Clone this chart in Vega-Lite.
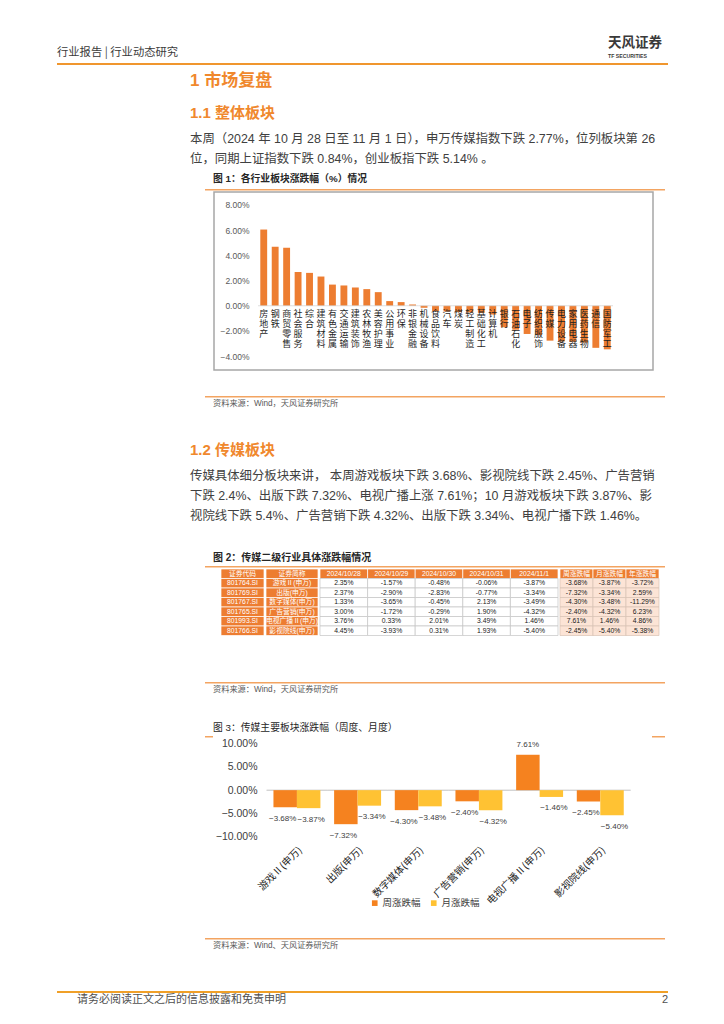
{
"$schema": "https://vega.github.io/schema/vega-lite/v6.json",
"padding": {"left": 57, "top": 0, "right": 0, "bottom": 0},
"background": "#ffffff",
"spacing": 0,
"resolve": {"scale": {"color": "independent"}, "legend": {"color": "independent"}},
"config": {"view": {"stroke": null}, "concat": {"spacing": 0}, "axis": {"grid": false}},
"datasets": {
"ind": [
{"n": "房地产", "v": 0.0605}, {"n": "钢铁", "v": 0.0468}, {"n": "商贸零售", "v": 0.0461}, {"n": "社会服务", "v": 0.0268},
{"n": "综合", "v": 0.0261}, {"n": "建筑材料", "v": 0.0232}, {"n": "有色金属", "v": 0.0168}, {"n": "交通运输", "v": 0.0161},
{"n": "建筑装饰", "v": 0.0145}, {"n": "农林牧渔", "v": 0.0132}, {"n": "美容护理", "v": 0.0108}, {"n": "公用事业", "v": 0.0037},
{"n": "环保", "v": 0.0029}, {"n": "非银金融", "v": 0.0010}, {"n": "机械设备", "v": -0.0016}, {"n": "食品饮料", "v": -0.0042},
{"n": "汽车", "v": -0.0046}, {"n": "煤炭", "v": -0.0050}, {"n": "轻工制造", "v": -0.0053}, {"n": "基础化工", "v": -0.0056},
{"n": "计算机", "v": -0.0070}, {"n": "银行", "v": -0.0171}, {"n": "石油石化", "v": -0.0190}, {"n": "电子", "v": -0.0224},
{"n": "纺织服饰", "v": -0.0232}, {"n": "传媒", "v": -0.0277}, {"n": "电力设备", "v": -0.0283}, {"n": "家用电器", "v": -0.0286},
{"n": "医药生物", "v": -0.0292}, {"n": "通信", "v": -0.0334}, {"n": "国防军工", "v": -0.0346}
],
"media": [
{"c": "游戏Ⅱ(申万)", "s": "周涨跌幅", "v": -0.0368}, {"c": "游戏Ⅱ(申万)", "s": "月涨跌幅", "v": -0.0387},
{"c": "出版(申万)", "s": "周涨跌幅", "v": -0.0732}, {"c": "出版(申万)", "s": "月涨跌幅", "v": -0.0334},
{"c": "数字媒体(申万)", "s": "周涨跌幅", "v": -0.0430}, {"c": "数字媒体(申万)", "s": "月涨跌幅", "v": -0.0348},
{"c": "广告营销(申万)", "s": "周涨跌幅", "v": -0.0240}, {"c": "广告营销(申万)", "s": "月涨跌幅", "v": -0.0432},
{"c": "电视广播Ⅱ(申万)", "s": "周涨跌幅", "v": 0.0761}, {"c": "电视广播Ⅱ(申万)", "s": "月涨跌幅", "v": -0.0146},
{"c": "影视院线(申万)", "s": "周涨跌幅", "v": -0.0245}, {"c": "影视院线(申万)", "s": "月涨跌幅", "v": -0.0540}
],
"tcode": [
{"row": 0, "col": "证券代码", "t": "证券代码"}, {"row": 1, "col": "证券代码", "t": "801764.SI"}, {"row": 2, "col": "证券代码", "t": "801769.SI"},
{"row": 3, "col": "证券代码", "t": "801767.SI"}, {"row": 4, "col": "证券代码", "t": "801765.SI"}, {"row": 5, "col": "证券代码", "t": "801993.SI"},
{"row": 6, "col": "证券代码", "t": "801766.SI"}
],
"tname": [
{"row": 0, "col": "证券简称", "t": "证券简称"}, {"row": 1, "col": "证券简称", "t": "游戏Ⅱ(申万)"}, {"row": 2, "col": "证券简称", "t": "出版(申万)"},
{"row": 3, "col": "证券简称", "t": "数字媒体(申万)"}, {"row": 4, "col": "证券简称", "t": "广告营销(申万)"}, {"row": 5, "col": "证券简称", "t": "电视广播Ⅱ(申万)"},
{"row": 6, "col": "证券简称", "t": "影视院线(申万)"}
],
"tdate": [
{"row": 0, "col": "d1", "t": "2024/10/28"}, {"row": 0, "col": "d2", "t": "2024/10/29"}, {"row": 0, "col": "d3", "t": "2024/10/30"}, {"row": 0, "col": "d4", "t": "2024/10/31"}, {"row": 0, "col": "d5", "t": "2024/11/1"},
{"row": 1, "col": "d1", "t": "2.35%"}, {"row": 1, "col": "d2", "t": "-1.57%"}, {"row": 1, "col": "d3", "t": "-0.48%"}, {"row": 1, "col": "d4", "t": "-0.06%"}, {"row": 1, "col": "d5", "t": "-3.87%"},
{"row": 2, "col": "d1", "t": "2.37%"}, {"row": 2, "col": "d2", "t": "-2.90%"}, {"row": 2, "col": "d3", "t": "-2.83%"}, {"row": 2, "col": "d4", "t": "-0.77%"}, {"row": 2, "col": "d5", "t": "-3.34%"},
{"row": 3, "col": "d1", "t": "1.33%"}, {"row": 3, "col": "d2", "t": "-3.65%"}, {"row": 3, "col": "d3", "t": "-0.45%"}, {"row": 3, "col": "d4", "t": "2.13%"}, {"row": 3, "col": "d5", "t": "-3.49%"},
{"row": 4, "col": "d1", "t": "3.00%"}, {"row": 4, "col": "d2", "t": "-1.72%"}, {"row": 4, "col": "d3", "t": "-0.29%"}, {"row": 4, "col": "d4", "t": "1.90%"}, {"row": 4, "col": "d5", "t": "-4.32%"},
{"row": 5, "col": "d1", "t": "3.76%"}, {"row": 5, "col": "d2", "t": "0.33%"}, {"row": 5, "col": "d3", "t": "2.01%"}, {"row": 5, "col": "d4", "t": "3.49%"}, {"row": 5, "col": "d5", "t": "1.46%"},
{"row": 6, "col": "d1", "t": "4.45%"}, {"row": 6, "col": "d2", "t": "-3.93%"}, {"row": 6, "col": "d3", "t": "0.31%"}, {"row": 6, "col": "d4", "t": "1.93%"}, {"row": 6, "col": "d5", "t": "-5.40%"}
],
"tchg": [
{"row": 0, "col": "w", "t": "周涨跌幅"}, {"row": 0, "col": "m", "t": "月涨跌幅"}, {"row": 0, "col": "y", "t": "年涨跌幅"},
{"row": 1, "col": "w", "t": "-3.68%"}, {"row": 1, "col": "m", "t": "-3.87%"}, {"row": 1, "col": "y", "t": "-3.72%"},
{"row": 2, "col": "w", "t": "-7.32%"}, {"row": 2, "col": "m", "t": "-3.34%"}, {"row": 2, "col": "y", "t": "2.59%"},
{"row": 3, "col": "w", "t": "-4.30%"}, {"row": 3, "col": "m", "t": "-3.48%"}, {"row": 3, "col": "y", "t": "-11.29%"},
{"row": 4, "col": "w", "t": "-2.40%"}, {"row": 4, "col": "m", "t": "-4.32%"}, {"row": 4, "col": "y", "t": "6.23%"},
{"row": 5, "col": "w", "t": "7.61%"}, {"row": 5, "col": "m", "t": "1.46%"}, {"row": 5, "col": "y", "t": "4.86%"},
{"row": 6, "col": "w", "t": "-2.45%"}, {"row": 6, "col": "m", "t": "-5.40%"}, {"row": 6, "col": "y", "t": "-5.38%"}
]
},
"vconcat": [
{"width": 1, "height": 35, "data": {"values": []}, "mark": "point"},
{"hconcat": [
  {"width": 551, "height": 27, "data": {"values": [{"t": "行业报告 | 行业动态研究"}]},
   "mark": {"type": "text", "align": "left", "baseline": "middle", "dy": 3.5, "fontSize": 11.3, "color": "#3a3a3a", "font": "Noto Sans CJK SC"},
   "encoding": {"text": {"field": "t"}, "x": {"datum": 0, "type": "quantitative", "scale": {"domain": [0, 1]}, "axis": null}}},
  {"width": 60, "height": 27, "layer": [
    {"data": {"values": [{"r": "a", "t": "天风证券"}]},
     "mark": {"type": "text", "align": "left", "baseline": "middle", "fontSize": 13.5, "fontWeight": "bold", "color": "#3a3a3a", "font": "Noto Sans CJK SC"},
     "encoding": {"text": {"field": "t"}, "x": {"datum": 0, "type": "quantitative", "scale": {"domain": [0, 1]}, "axis": null},
       "y": {"field": "r", "type": "nominal", "scale": {"type": "point", "domain": ["a", "b"], "padding": 0.5}, "axis": null}}},
    {"data": {"values": [{"r": "b", "t": "TF SECURITIES"}]},
     "mark": {"type": "text", "align": "left", "baseline": "middle", "fontSize": 5.2, "fontWeight": "bold", "color": "#3a3a3a", "font": "Liberation Sans"},
     "encoding": {"text": {"field": "t"}, "x": {"datum": 0, "type": "quantitative", "scale": {"domain": [0, 1]}, "axis": null},
       "y": {"field": "r", "type": "nominal", "scale": {"type": "point", "domain": ["a", "b"], "padding": 0.5}, "axis": null}}}
  ]}
 ], "spacing": 0},
{"width": 611, "height": 2, "data": {"values": []}, "mark": "point", "view": {"fill": "#F0962E", "stroke": null}},
{"hconcat": [
  {"width": 133, "height": 1, "data": {"values": []}, "mark": "point"},
  {"vconcat": [
    {"width": 480, "height": 32, "data": {"values": [{"t": "1 市场复盘"}]},
     "mark": {"type": "text", "align": "left", "baseline": "middle", "fontSize": 17, "fontWeight": "bold", "color": "#F0882D", "font": "Liberation Sans, Noto Sans CJK SC"},
     "encoding": {"text": {"field": "t"}, "x": {"datum": 0, "type": "quantitative", "scale": {"domain": [0, 1]}, "axis": null}}},
    {"width": 480, "height": 32, "data": {"values": [{"t": "1.1 整体板块"}]},
     "mark": {"type": "text", "align": "left", "baseline": "middle", "fontSize": 15, "fontWeight": "bold", "color": "#F0882D", "font": "Liberation Sans, Noto Sans CJK SC"},
     "encoding": {"text": {"field": "t"}, "x": {"datum": 0, "type": "quantitative", "scale": {"domain": [0, 1]}, "axis": null}}},
    {"width": 480, "height": 40, "data": {"values": [
       {"l": 1, "t": "本周（2024 年 10 月 28 日至 11 月 1 日），申万传媒指数下跌 2.77%，位列板块第 26"},
       {"l": 2, "t": "位，同期上证指数下跌 0.84%，创业板指下跌 5.14% 。"}]},
     "mark": {"type": "text", "align": "left", "baseline": "middle", "fontSize": 12.4, "color": "#404040", "font": "Liberation Sans, Noto Sans CJK SC"},
     "encoding": {"text": {"field": "t"}, "x": {"datum": 0, "type": "quantitative", "scale": {"domain": [0, 1]}, "axis": null},
       "y": {"field": "l", "type": "ordinal", "scale": {"type": "point", "padding": 0.5}, "axis": null}}},
    {"hconcat": [
      {"width": 23, "height": 1, "data": {"values": []}, "mark": "point"},
      {"width": 430, "height": 20, "data": {"values": [{"t": "图 1：各行业板块涨跌幅（%）情况"}]},
       "mark": {"type": "text", "align": "left", "baseline": "middle", "fontSize": 9.8, "fontWeight": "bold", "color": "#262626", "font": "Liberation Sans, Noto Sans CJK SC"},
       "encoding": {"text": {"field": "t"}, "x": {"datum": 0, "type": "quantitative", "scale": {"domain": [0, 1]}, "axis": null}}}
     ], "spacing": 0},
    {"hconcat": [
      {"width": 15, "height": 1, "data": {"values": []}, "mark": "point"},
      {"width": 460, "height": 1.5, "data": {"values": []}, "mark": "point", "view": {"fill": "#F3A461", "stroke": null}}
     ], "spacing": 0},
    {"hconcat": [
      {"width": 23, "height": 1, "data": {"values": []}, "mark": "point"},
      {"width": 439, "height": 178,
       "view": {"stroke": "#A6A6A6", "strokeWidth": 1.5},
       "data": {"name": "ind"},
       "resolve": {"axis": {"x": "independent"}},
       "layer": [
         {"mark": {"type": "bar", "color": "#ED7D31"},
          "encoding": {
            "x": {"field": "n", "type": "nominal", "sort": null, "scale": {"range": [44, 399], "paddingInner": 0.4, "paddingOuter": 0.2},
              "axis": {"title": null, "orient": "bottom", "offset": -64.2, "labelExpr": "substring(datum.label, 0, 1)", "labelAngle": 0, "labelAlign": "center", "labelBaseline": "top", "labelPadding": 4, "labelFontSize": 9, "labelFont": "Noto Sans CJK SC", "labelColor": "#1f1f1f", "labelOverlap": false, "labelLimit": 0, "domain": false, "ticks": false, "tickSize": 0, "zindex": 1}},
            "y": {"field": "v", "type": "quantitative", "scale": {"domain": [-0.051, 0.0903], "nice": false, "zero": true},
              "axis": {"title": null, "orient": "left", "offset": -38, "values": [-0.04, -0.02, 0, 0.02, 0.04, 0.06, 0.08], "format": ".2%", "labelPadding": 3, "ticks": false, "tickSize": 0, "domain": false, "grid": false, "labelFontSize": 8.5, "labelFont": "Liberation Sans", "labelColor": "#595959"}}}},
         {"mark": {"type": "tick", "color": "#D0D0D0", "size": 11.45, "thickness": 1},
          "encoding": {
            "x": {"field": "n", "type": "nominal", "sort": null, "scale": {"range": [44, 399], "paddingInner": 0.4, "paddingOuter": 0.2},
              "axis": {"title": null, "orient": "bottom", "offset": -64.2, "labelExpr": "substring(datum.label, 1, 2)", "labelAngle": 0, "labelAlign": "center", "labelBaseline": "top", "labelPadding": 14, "labelFontSize": 9, "labelFont": "Noto Sans CJK SC", "labelColor": "#1f1f1f", "labelOverlap": false, "labelLimit": 0, "domain": false, "ticks": false, "tickSize": 0, "zindex": 1}},
            "y": {"datum": 0, "type": "quantitative", "scale": {"domain": [-0.051, 0.0903], "nice": false, "zero": true},
              "axis": {"title": null, "orient": "left", "offset": -38, "values": [-0.04, -0.02, 0, 0.02, 0.04, 0.06, 0.08], "format": ".2%", "labelPadding": 3, "ticks": false, "tickSize": 0, "domain": false, "grid": false, "labelFontSize": 8.5, "labelFont": "Liberation Sans", "labelColor": "#595959"}}}},
         {"mark": {"type": "tick", "opacity": 0, "size": 1, "thickness": 1},
          "encoding": {
            "x": {"field": "n", "type": "nominal", "sort": null, "scale": {"range": [44, 399], "paddingInner": 0.4, "paddingOuter": 0.2},
              "axis": {"title": null, "orient": "bottom", "offset": -64.2, "labelExpr": "substring(datum.label, 2, 3)", "labelAngle": 0, "labelAlign": "center", "labelBaseline": "top", "labelPadding": 24, "labelFontSize": 9, "labelFont": "Noto Sans CJK SC", "labelColor": "#1f1f1f", "labelOverlap": false, "labelLimit": 0, "domain": false, "ticks": false, "tickSize": 0, "zindex": 1}},
            "y": {"datum": 0, "type": "quantitative", "scale": {"domain": [-0.051, 0.0903], "nice": false, "zero": true},
              "axis": {"title": null, "orient": "left", "offset": -38, "values": [-0.04, -0.02, 0, 0.02, 0.04, 0.06, 0.08], "format": ".2%", "labelPadding": 3, "ticks": false, "tickSize": 0, "domain": false, "grid": false, "labelFontSize": 8.5, "labelFont": "Liberation Sans", "labelColor": "#595959"}}}},
         {"mark": {"type": "tick", "opacity": 0, "size": 1, "thickness": 1},
          "encoding": {
            "x": {"field": "n", "type": "nominal", "sort": null, "scale": {"range": [44, 399], "paddingInner": 0.4, "paddingOuter": 0.2},
              "axis": {"title": null, "orient": "bottom", "offset": -64.2, "labelExpr": "substring(datum.label, 3, 4)", "labelAngle": 0, "labelAlign": "center", "labelBaseline": "top", "labelPadding": 34, "labelFontSize": 9, "labelFont": "Noto Sans CJK SC", "labelColor": "#1f1f1f", "labelOverlap": false, "labelLimit": 0, "domain": false, "ticks": false, "tickSize": 0, "zindex": 1}},
            "y": {"datum": 0, "type": "quantitative", "scale": {"domain": [-0.051, 0.0903], "nice": false, "zero": true},
              "axis": {"title": null, "orient": "left", "offset": -38, "values": [-0.04, -0.02, 0, 0.02, 0.04, 0.06, 0.08], "format": ".2%", "labelPadding": 3, "ticks": false, "tickSize": 0, "domain": false, "grid": false, "labelFontSize": 8.5, "labelFont": "Liberation Sans", "labelColor": "#595959"}}}}
       ]}
     ], "spacing": 0},
    {"width": 1, "height": 24.75, "data": {"values": []}, "mark": "point"},
    {"hconcat": [
      {"width": 15, "height": 1, "data": {"values": []}, "mark": "point"},
      {"width": 460, "height": 1.5, "data": {"values": []}, "mark": "point", "view": {"fill": "#F3A461", "stroke": null}}
     ], "spacing": 0},
    {"hconcat": [
      {"width": 23, "height": 1, "data": {"values": []}, "mark": "point"},
      {"width": 300, "height": 12.5, "data": {"values": [{"t": "资料来源：Wind，天风证券研究所"}]},
       "mark": {"type": "text", "align": "left", "baseline": "middle", "fontSize": 8.2, "color": "#595959", "font": "Liberation Sans, Noto Sans CJK SC"},
       "encoding": {"text": {"field": "t"}, "x": {"datum": 0, "type": "quantitative", "scale": {"domain": [0, 1]}, "axis": null}}}
     ], "spacing": 0},
    {"width": 1, "height": 23, "data": {"values": []}, "mark": "point"},
    {"width": 480, "height": 32, "data": {"values": [{"t": "1.2 传媒板块"}]},
     "mark": {"type": "text", "align": "left", "baseline": "middle", "fontSize": 15, "fontWeight": "bold", "color": "#F0882D", "font": "Liberation Sans, Noto Sans CJK SC"},
     "encoding": {"text": {"field": "t"}, "x": {"datum": 0, "type": "quantitative", "scale": {"domain": [0, 1]}, "axis": null}}},
    {"width": 480, "height": 60, "data": {"values": [
       {"l": 1, "t": "传媒具体细分板块来讲，  本周游戏板块下跌 3.68%、影视院线下跌 2.45%、广告营销"},
       {"l": 2, "t": "下跌 2.4%、出版下跌 7.32%、电视广播上涨 7.61%；10 月游戏板块下跌 3.87%、影"},
       {"l": 3, "t": "视院线下跌 5.4%、广告营销下跌 4.32%、出版下跌 3.34%、电视广播下跌 1.46%。"}]},
     "mark": {"type": "text", "align": "left", "baseline": "middle", "fontSize": 12.4, "color": "#404040", "font": "Liberation Sans, Noto Sans CJK SC"},
     "encoding": {"text": {"field": "t"}, "x": {"datum": 0, "type": "quantitative", "scale": {"domain": [0, 1]}, "axis": null},
       "y": {"field": "l", "type": "ordinal", "scale": {"type": "point", "padding": 0.5}, "axis": null}}},
    {"width": 1, "height": 23, "data": {"values": []}, "mark": "point"},
    {"hconcat": [
      {"width": 23, "height": 1, "data": {"values": []}, "mark": "point"},
      {"width": 430, "height": 17, "data": {"values": [{"t": "图 2：传媒二级行业具体涨跌幅情况"}]},
       "mark": {"type": "text", "align": "left", "baseline": "middle", "fontSize": 10, "fontWeight": "bold", "color": "#262626", "font": "Liberation Sans, Noto Sans CJK SC"},
       "encoding": {"text": {"field": "t"}, "x": {"datum": 0, "type": "quantitative", "scale": {"domain": [0, 1]}, "axis": null}}}
     ], "spacing": 0},
    {"hconcat": [
      {"width": 15, "height": 1, "data": {"values": []}, "mark": "point"},
      {"width": 460, "height": 1.5, "data": {"values": []}, "mark": "point", "view": {"fill": "#F3A461", "stroke": null}}
     ], "spacing": 0},
    {"hconcat": [
      {"width": 30, "height": 1, "data": {"values": []}, "mark": "point"},
      {"width": 43, "height": 66.5, "data": {"name": "tcode"},
       "encoding": {"x": {"field": "col", "type": "nominal", "axis": null, "scale": {"paddingInner": 0, "paddingOuter": 0}},
         "y": {"field": "row", "type": "ordinal", "axis": null, "scale": {"type": "band", "paddingInner": 0, "paddingOuter": 0}}},
       "layer": [
         {"mark": {"type": "rect", "fill": "#ED7D31", "stroke": "#FFFFFF", "strokeWidth": 0.7}},
         {"mark": {"type": "text", "fontSize": 6.8, "color": "#FFFFFF", "font": "Liberation Sans, Noto Sans CJK SC"}, "encoding": {"text": {"field": "t"}}}
       ]},
      {"width": 52, "height": 66.5, "data": {"name": "tname"},
       "encoding": {"x": {"field": "col", "type": "nominal", "axis": null, "scale": {"paddingInner": 0, "paddingOuter": 0}},
         "y": {"field": "row", "type": "ordinal", "axis": null, "scale": {"type": "band", "paddingInner": 0, "paddingOuter": 0}}},
       "layer": [
         {"mark": {"type": "rect", "fill": "#ED7D31", "stroke": "#FFFFFF", "strokeWidth": 0.7}},
         {"mark": {"type": "text", "fontSize": 6.8, "color": "#FFFFFF", "font": "Liberation Sans, Noto Sans CJK SC"}, "encoding": {"text": {"field": "t"}}}
       ]},
      {"width": 238, "height": 66.5, "data": {"name": "tdate"},
       "encoding": {"x": {"field": "col", "type": "nominal", "sort": null, "axis": null, "scale": {"paddingInner": 0, "paddingOuter": 0}},
         "y": {"field": "row", "type": "ordinal", "axis": null, "scale": {"type": "band", "paddingInner": 0, "paddingOuter": 0}}},
       "layer": [
         {"mark": {"type": "rect", "strokeWidth": 0.7},
          "encoding": {"fill": {"condition": {"test": "datum.row == 0", "value": "#ED7D31"}, "value": "#FFFFFF"},
            "stroke": {"condition": {"test": "datum.row == 0", "value": "#FFFFFF"}, "value": "#C4C4C4"}}},
         {"mark": {"type": "text", "fontSize": 6.8, "font": "Liberation Sans"},
          "encoding": {"text": {"field": "t"}, "color": {"condition": {"test": "datum.row == 0", "value": "#FFFFFF"}, "value": "#1a1a1a"}}}
       ]},
      {"width": 99, "height": 66.5, "data": {"name": "tchg"},
       "encoding": {"x": {"field": "col", "type": "nominal", "sort": null, "axis": null, "scale": {"paddingInner": 0, "paddingOuter": 0}},
         "y": {"field": "row", "type": "ordinal", "axis": null, "scale": {"type": "band", "paddingInner": 0, "paddingOuter": 0}}},
       "layer": [
         {"mark": {"type": "rect", "strokeWidth": 0.7},
          "encoding": {"fill": {"condition": {"test": "datum.row == 0", "value": "#ED7D31"}, "value": "#FCE4D6"},
            "stroke": {"condition": {"test": "datum.row == 0", "value": "#FFFFFF"}, "value": "#D9C3B5"}}},
         {"mark": {"type": "text", "fontSize": 6.8, "font": "Liberation Sans, Noto Sans CJK SC"},
          "encoding": {"text": {"field": "t"}, "color": {"condition": {"test": "datum.row == 0", "value": "#FFFFFF"}, "value": "#1a1a1a"}}}
       ]}
     ], "spacing": 0},
    {"width": 1, "height": 46, "data": {"values": []}, "mark": "point"},
    {"hconcat": [
      {"width": 15, "height": 1, "data": {"values": []}, "mark": "point"},
      {"width": 460, "height": 1.5, "data": {"values": []}, "mark": "point", "view": {"fill": "#F3A461", "stroke": null}}
     ], "spacing": 0},
    {"hconcat": [
      {"width": 23, "height": 1, "data": {"values": []}, "mark": "point"},
      {"width": 300, "height": 12.5, "data": {"values": [{"t": "资料来源：Wind，天风证券研究所"}]},
       "mark": {"type": "text", "align": "left", "baseline": "middle", "fontSize": 8.2, "color": "#595959", "font": "Liberation Sans, Noto Sans CJK SC"},
       "encoding": {"text": {"field": "t"}, "x": {"datum": 0, "type": "quantitative", "scale": {"domain": [0, 1]}, "axis": null}}}
     ], "spacing": 0},
    {"width": 1, "height": 23, "data": {"values": []}, "mark": "point"},
    {"hconcat": [
      {"width": 23, "height": 1, "data": {"values": []}, "mark": "point"},
      {"width": 430, "height": 16, "data": {"values": [{"t": "图 3：传媒主要板块涨跌幅（周度、月度）"}]},
       "mark": {"type": "text", "align": "left", "baseline": "middle", "fontSize": 9.8, "color": "#262626", "font": "Liberation Sans, Noto Sans CJK SC"},
       "encoding": {"text": {"field": "t"}, "x": {"datum": 0, "type": "quantitative", "scale": {"domain": [0, 1]}, "axis": null}}}
     ], "spacing": 0},
    {"hconcat": [
      {"width": 15, "height": 1, "data": {"values": []}, "mark": "point"},
      {"width": 8, "height": 1.5, "data": {"values": []}, "mark": "point", "view": {"fill": "#F3A461", "stroke": null}},
      {"width": 439, "height": 1.5, "data": {"values": []}, "mark": "point"},
      {"width": 13, "height": 1.5, "data": {"values": []}, "mark": "point", "view": {"fill": "#F3A461", "stroke": null}}
     ], "spacing": 0},
    {"hconcat": [
      {"width": 15, "height": 1, "data": {"values": []}, "mark": "point"},
      {"width": 460, "height": 97.65,
       "data": {"name": "media"},
       "encoding": {"x": {"field": "c", "type": "nominal", "sort": null,
         "scale": {"paddingInner": 0.226, "paddingOuter": 0.904, "align": 0.624},
         "axis": {"title": null, "labelAngle": -45, "labelPadding": 8, "labelFontSize": 10, "labelFont": "Noto Sans CJK SC", "labelColor": "#262626", "domain": false, "ticks": false, "tickSize": 0, "labelOverlap": false, "labelLimit": 0}}},
       "layer": [
         {"mark": {"type": "tick", "color": "#C8C8C8", "size": 60.67, "thickness": 1},
          "encoding": {"y": {"datum": 0, "type": "quantitative", "scale": {"domain": [-0.1, 0.11], "nice": false, "zero": true},
            "axis": {"title": null, "orient": "left", "offset": -62, "values": [-0.1, -0.05, 0, 0.05, 0.1], "format": ".2%", "labelPadding": 10, "ticks": false, "tickSize": 0, "domain": false, "grid": false, "labelFontSize": 10.5, "labelFont": "Liberation Sans", "labelColor": "#404040"}}}},
         {"mark": {"type": "bar"},
          "encoding": {
            "xOffset": {"field": "s", "type": "nominal", "sort": ["周涨跌幅", "月涨跌幅"], "scale": {"paddingInner": 0, "paddingOuter": 0}},
            "y": {"field": "v", "type": "quantitative", "scale": {"domain": [-0.1, 0.11], "nice": false, "zero": true},
              "axis": {"title": null, "orient": "left", "offset": -62, "values": [-0.1, -0.05, 0, 0.05, 0.1], "format": ".2%", "labelPadding": 10, "ticks": false, "tickSize": 0, "domain": false, "grid": false, "labelFontSize": 10.5, "labelFont": "Liberation Sans", "labelColor": "#404040"}},
            "color": {"field": "s", "type": "nominal", "sort": ["周涨跌幅", "月涨跌幅"], "scale": {"domain": ["周涨跌幅", "月涨跌幅"], "range": ["#F5821F", "#FFC233"]},
              "legend": {"title": null, "orient": "none", "legendX": 165, "legendY": 159, "direction": "horizontal", "symbolType": "square", "symbolSize": 32, "symbolStrokeWidth": 0, "labelFontSize": 9.5, "labelOffset": 3, "labelFont": "Noto Sans CJK SC", "labelColor": "#404040", "columnPadding": 8}}}},
         {"transform": [{"filter": "datum.v < 0 && datum.s == '周涨跌幅'"}],
          "mark": {"type": "text", "baseline": "middle", "dy": 11.5, "dx": -2.5, "fontSize": 8, "font": "Liberation Sans", "color": "#404040"},
          "encoding": {
            "xOffset": {"field": "s", "type": "nominal", "sort": ["周涨跌幅", "月涨跌幅"], "scale": {"paddingInner": 0, "paddingOuter": 0}},
            "y": {"field": "v", "type": "quantitative", "scale": {"domain": [-0.1, 0.11], "nice": false, "zero": true},
              "axis": {"title": null, "orient": "left", "offset": -62, "values": [-0.1, -0.05, 0, 0.05, 0.1], "format": ".2%", "labelPadding": 10, "ticks": false, "tickSize": 0, "domain": false, "grid": false, "labelFontSize": 10.5, "labelFont": "Liberation Sans", "labelColor": "#404040"}},
            "text": {"field": "v", "type": "quantitative", "format": ".2%"}}},
         {"transform": [{"filter": "datum.v < 0 && datum.s == '月涨跌幅'"}],
          "mark": {"type": "text", "baseline": "middle", "dy": 11.5, "dx": 2.5, "fontSize": 8, "font": "Liberation Sans", "color": "#404040"},
          "encoding": {
            "xOffset": {"field": "s", "type": "nominal", "sort": ["周涨跌幅", "月涨跌幅"], "scale": {"paddingInner": 0, "paddingOuter": 0}},
            "y": {"field": "v", "type": "quantitative", "scale": {"domain": [-0.1, 0.11], "nice": false, "zero": true},
              "axis": {"title": null, "orient": "left", "offset": -62, "values": [-0.1, -0.05, 0, 0.05, 0.1], "format": ".2%", "labelPadding": 10, "ticks": false, "tickSize": 0, "domain": false, "grid": false, "labelFontSize": 10.5, "labelFont": "Liberation Sans", "labelColor": "#404040"}},
            "text": {"field": "v", "type": "quantitative", "format": ".2%"}}},
         {"transform": [{"filter": "datum.v >= 0"}],
          "mark": {"type": "text", "baseline": "middle", "dy": -10, "fontSize": 8, "font": "Liberation Sans", "color": "#404040"},
          "encoding": {
            "xOffset": {"field": "s", "type": "nominal", "sort": ["周涨跌幅", "月涨跌幅"], "scale": {"paddingInner": 0, "paddingOuter": 0}},
            "y": {"field": "v", "type": "quantitative", "scale": {"domain": [-0.1, 0.11], "nice": false, "zero": true},
              "axis": {"title": null, "orient": "left", "offset": -62, "values": [-0.1, -0.05, 0, 0.05, 0.1], "format": ".2%", "labelPadding": 10, "ticks": false, "tickSize": 0, "domain": false, "grid": false, "labelFontSize": 10.5, "labelFont": "Liberation Sans", "labelColor": "#404040"}},
            "text": {"field": "v", "type": "quantitative", "format": ".2%"}}}
       ]}
     ], "spacing": 0, "resolve": {"scale": {"color": "independent"}, "legend": {"color": "independent"}}},
    {"width": 1, "height": 29.5, "data": {"values": []}, "mark": "point"},
    {"hconcat": [
      {"width": 15, "height": 1, "data": {"values": []}, "mark": "point"},
      {"width": 460, "height": 1.5, "data": {"values": []}, "mark": "point", "view": {"fill": "#F3A461", "stroke": null}}
     ], "spacing": 0},
    {"hconcat": [
      {"width": 23, "height": 1, "data": {"values": []}, "mark": "point"},
      {"width": 300, "height": 12.5, "data": {"values": [{"t": "资料来源：Wind、天风证券研究所"}]},
       "mark": {"type": "text", "align": "left", "baseline": "middle", "fontSize": 8.2, "color": "#595959", "font": "Liberation Sans, Noto Sans CJK SC"},
       "encoding": {"text": {"field": "t"}, "x": {"datum": 0, "type": "quantitative", "scale": {"domain": [0, 1]}, "axis": null}}}
     ], "spacing": 0}
   ], "spacing": 0, "resolve": {"scale": {"color": "independent"}, "legend": {"color": "independent"}}}
 ], "spacing": 0, "resolve": {"scale": {"color": "independent"}, "legend": {"color": "independent"}}},
{"width": 1, "height": 38, "data": {"values": []}, "mark": "point"},
{"width": 611, "height": 2, "data": {"values": []}, "mark": "point", "view": {"fill": "#F0A028", "stroke": null}},
{"hconcat": [
  {"width": 20, "height": 1, "data": {"values": []}, "mark": "point"},
  {"width": 591, "height": 14, "layer": [
    {"data": {"values": [{"t": "请务必阅读正文之后的信息披露和免责申明"}]},
     "mark": {"type": "text", "align": "left", "baseline": "middle", "fontSize": 11, "color": "#505050", "font": "Noto Sans CJK SC"},
     "encoding": {"text": {"field": "t"}, "x": {"datum": 0, "type": "quantitative", "scale": {"domain": [0, 1]}, "axis": null}}},
    {"data": {"values": [{"t": "2"}]},
     "mark": {"type": "text", "align": "right", "baseline": "middle", "fontSize": 11, "color": "#505050", "font": "Liberation Sans"},
     "encoding": {"text": {"field": "t"}, "x": {"datum": 1, "type": "quantitative", "scale": {"domain": [0, 1]}, "axis": null}}}
  ]}
 ], "spacing": 0}
]
}
